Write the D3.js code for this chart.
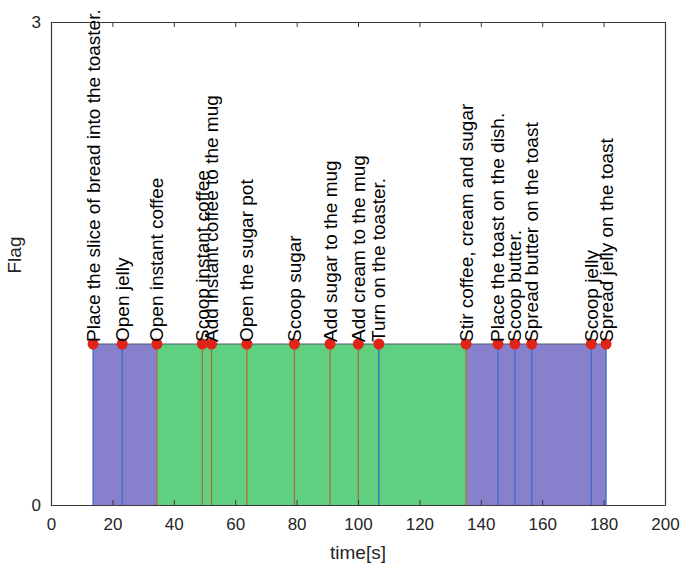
<!DOCTYPE html>
<html><head><meta charset="utf-8">
<script src="https://cdn.jsdelivr.net/npm/d3@7"></script>
<style>body{margin:0;background:#fff}svg{display:block}text{font-family:"Liberation Sans",Arial,sans-serif}</style>
</head><body><svg id="c" width="680" height="570"></svg>
<script>
const eventTimes = [13.7, 23.2, 34.5, 49.3, 52.3, 63.8, 79.3, 90.9, 100.1, 106.8, 135.2, 145.6, 151.1, 156.6, 176.0, 180.8];
const eventLabels = ["Place the slice of bread into the toaster.", "Open jelly", "Open instant coffee", "Scoop instant coffee", "Add instant coffee to the mug", "Open the sugar pot", "Scoop sugar", "Add sugar to the mug", "Add cream to the mug", "Turn on the toaster.", "Stir coffee, cream and sugar", "Place the toast on the dish.", "Scoop butter.", "Spread butter on the toast", "Scoop jelly", "Spread jelly on the toast"];
const eventTask = ["toast","toast","coffee","coffee","coffee","coffee","coffee","coffee","coffee","toast","coffee","toast","toast","toast","toast","toast"];
const phaseStart = [13.7, 34.5, 135.2];
const phaseEnd = [34.5, 135.2, 180.8];
const phaseTask = ["toast", "coffee", "toast"];
const flagValue = 1;
const xTicks = [0,20,40,60,80,100,120,140,160,180,200];
const yTicks = [0,3];

const fillColor = {toast:"#8780cc", coffee:"#5fcf82"};
const lineColor = {toast:"#3d6cc6", coffee:"#ad7038"};

const svg = d3.select("#c");
const x = d3.scaleLinear().domain([0,200]).range([51,665]);
const y = d3.scaleLinear().domain([0,3]).range([505,22]);

// phases
svg.append("g").selectAll("rect").data(phaseStart).join("rect")
  .attr("x",(d,i)=>x(d)).attr("y",y(flagValue))
  .attr("width",(d,i)=>x(phaseEnd[i])-x(d)).attr("height",y(0)-y(flagValue))
  .attr("fill",(d,i)=>fillColor[phaseTask[i]]);
// top edge
svg.append("line").attr("x1",x(phaseStart[0])).attr("x2",x(phaseEnd[phaseEnd.length-1]))
  .attr("y1",y(flagValue)).attr("y2",y(flagValue)).attr("stroke","#555a70").attr("stroke-width",1);
// event lines
svg.append("g").selectAll("line").data(eventTimes).join("line")
  .attr("x1",d=>x(d)).attr("x2",d=>x(d)).attr("y1",y(flagValue)).attr("y2",y(0))
  .attr("stroke",(d,i)=>lineColor[eventTask[i]]).attr("stroke-width",1.3);

// axes box
const axCol = "#3a3a3a";
const axB = d3.axisBottom(x).tickValues(xTicks).tickSizeInner(-5).tickSizeOuter(0).tickPadding(10);
const gb = svg.append("g").attr("transform",`translate(0,${y(0)})`).call(axB);
const axT = d3.axisTop(x).tickValues(xTicks).tickSizeInner(-5).tickSizeOuter(0).tickFormat("");
const gt = svg.append("g").attr("transform",`translate(0,${y(3)})`).call(axT);
const axL = d3.axisLeft(y).tickValues(yTicks).tickFormat(d3.format("d")).tickSizeInner(-5).tickSizeOuter(0).tickPadding(10);
const gl = svg.append("g").attr("transform",`translate(${x(0)},0)`).call(axL);
const axR = d3.axisRight(y).tickValues(yTicks).tickSizeInner(-5).tickSizeOuter(0).tickFormat("");
const gr = svg.append("g").attr("transform",`translate(${x(200)},0)`).call(axR);
[gb,gt,gl,gr].forEach(a=>{
  a.select(".domain").attr("stroke",axCol).attr("stroke-width",1.2);
  a.selectAll(".tick line").attr("stroke",axCol);
  a.selectAll(".tick text").attr("fill","#262626").attr("font-size",17).attr("font-family","Liberation Sans, Arial, sans-serif");
});
gb.selectAll(".tick text").attr("dy","0.9em");

// dots
svg.append("g").selectAll("circle").data(eventTimes).join("circle")
  .attr("cx",d=>x(d)).attr("cy",y(flagValue)).attr("r",5.5).attr("fill","#e02418");

// labels
svg.append("g").selectAll("text").data(eventTimes).join("text")
  .attr("transform",d=>`translate(${x(d)},${y(flagValue)-2}) rotate(-90)`)
  .attr("dominant-baseline","central").attr("font-size",19).attr("fill","#000")
  .text((d,i)=>eventLabels[i]);

// axis titles
svg.append("text").attr("x",(x(0)+x(200))/2).attr("y",559).attr("text-anchor","middle")
  .attr("font-size",19).attr("fill","#262626").text("time[s]");
svg.append("text").attr("transform",`translate(21,255) rotate(-90)`).attr("text-anchor","middle")
  .attr("font-size",19).attr("fill","#262626").text("Flag");
</script></body></html>
